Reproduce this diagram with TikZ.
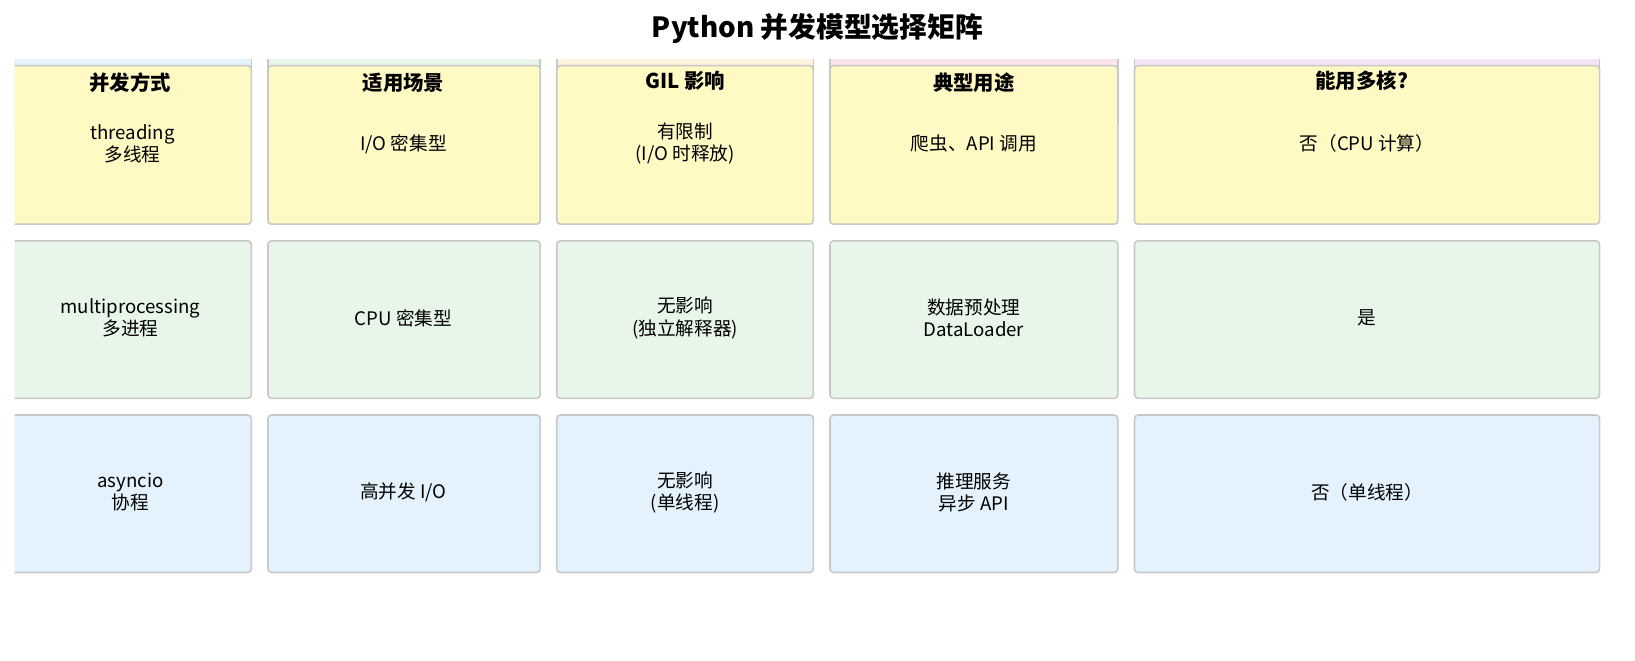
\documentclass[tikz,border=0pt]{standalone}
\usepackage{fontspec}
\setmainfont{Noto Sans CJK SC}
\definecolor{cyel}{HTML}{FFF9C4}
\definecolor{cgrn}{HTML}{E8F5E9}
\definecolor{cblu}{HTML}{E3F2FD}
\definecolor{corg}{HTML}{FFF3E0}
\definecolor{cpnk}{HTML}{FCE4EC}
\definecolor{cpur}{HTML}{F3E5F5}
\definecolor{cedge}{HTML}{C8C8C8}
\begin{document}
\begin{tikzpicture}[x=0.02085cm,y=-0.02085cm,
    box/.style={draw=cedge,line width=0.9pt,rounded corners=2pt},
    cell/.style={inner sep=0pt,align=center,font=\fontsize{10.6}{12.6}\selectfont},
    strip/.style={draw=cedge,line width=0.9pt},
    head/.style={font=\bfseries\fontsize{11.6}{13.5}\selectfont}
    ]

    % title:
    \node (title) at (784,27) [font=\bfseries\fontsize{15.8}{18}\selectfont] {Python 并发模型选择矩阵};

    \begin{scope}
    \clip (14,0) rectangle (1568,633);

    % header strips:
    \fill[cblu] (-20,57) rectangle (241,120);
    \draw[strip] (241,57) -- (241,120);
    \fill[cgrn] (257,57) rectangle (518,120);
    \draw[strip] (257,57) -- (257,120) (518,57) -- (518,120);
    \fill[corg] (534,57) rectangle (780,120);
    \draw[strip] (534,57) -- (534,120) (780,57) -- (780,120);
    \fill[cpnk] (796,57) rectangle (1072,120);
    \draw[strip] (796,57) -- (796,120) (1072,57) -- (1072,120);
    \fill[cpur] (1088,57) rectangle (1534,120);
    \draw[strip] (1088,57) -- (1088,120) (1534,57) -- (1534,120);

    % first row:
    \draw[box,fill=cyel] (-20,63) rectangle (241,215);
    \node (r1c1) at (127,138) [cell] {threading\\多线程};
    \draw[box,fill=cyel] (257,63) rectangle (518,215);
    \node (r1c2) at (387,138) [cell] {I/O 密集型};
    \draw[box,fill=cyel] (534,63) rectangle (780,215);
    \node (r1c3) at (657,138) [cell] {有限制\\(I/O 时释放)};
    \draw[box,fill=cyel] (796,63) rectangle (1072,215);
    \node (r1c4) at (934,138) [cell] {爬虫、API 调用};
    \draw[box,fill=cyel] (1088,63) rectangle (1534,215);
    \node (r1c5) at (1311,138) [cell] {否（CPU 计算）};

    % headers:
    \node (h1) at (125,79) [head] {并发方式};
    \node (h2) at (387,79) [head] {适用场景};
    \node (h3) at (657,77) [head] {GIL 影响};
    \node (h4) at (934,79) [head] {典型用途};
    \node (h5) at (1306,77) [head] {能用多核?};

    % second row:
    \draw[box,fill=cgrn] (-20,231) rectangle (241,382);
    \node (r2c1) at (125,305) [cell] {multiprocessing\\多进程};
    \draw[box,fill=cgrn] (257,231) rectangle (518,382);
    \node (r2c2) at (387,305) [cell] {CPU 密集型};
    \draw[box,fill=cgrn] (534,231) rectangle (780,382);
    \node (r2c3) at (657,305) [cell] {无影响\\(独立解释器)};
    \draw[box,fill=cgrn] (796,231) rectangle (1072,382);
    \node (r2c4) at (934,305) [cell] {数据预处理\\DataLoader};
    \draw[box,fill=cgrn] (1088,231) rectangle (1534,382);
    \node (r2c5) at (1311,305) [cell] {是};

    % third row:
    \draw[box,fill=cblu] (-20,398) rectangle (241,549);
    \node (r3c1) at (125,472) [cell] {asyncio\\协程};
    \draw[box,fill=cblu] (257,398) rectangle (518,549);
    \node (r3c2) at (387,472) [cell] {高并发 I/O};
    \draw[box,fill=cblu] (534,398) rectangle (780,549);
    \node (r3c3) at (657,472) [cell] {无影响\\(单线程)};
    \draw[box,fill=cblu] (796,398) rectangle (1072,549);
    \node (r3c4) at (934,472) [cell] {推理服务\\异步 API};
    \draw[box,fill=cblu] (1088,398) rectangle (1534,549);
    \node (r3c5) at (1311,472) [cell] {否（单线程）};
    \end{scope}

    \pgfresetboundingbox
    \useasboundingbox (0,0) rectangle (1568,633);
  \end{tikzpicture}
\end{document}
